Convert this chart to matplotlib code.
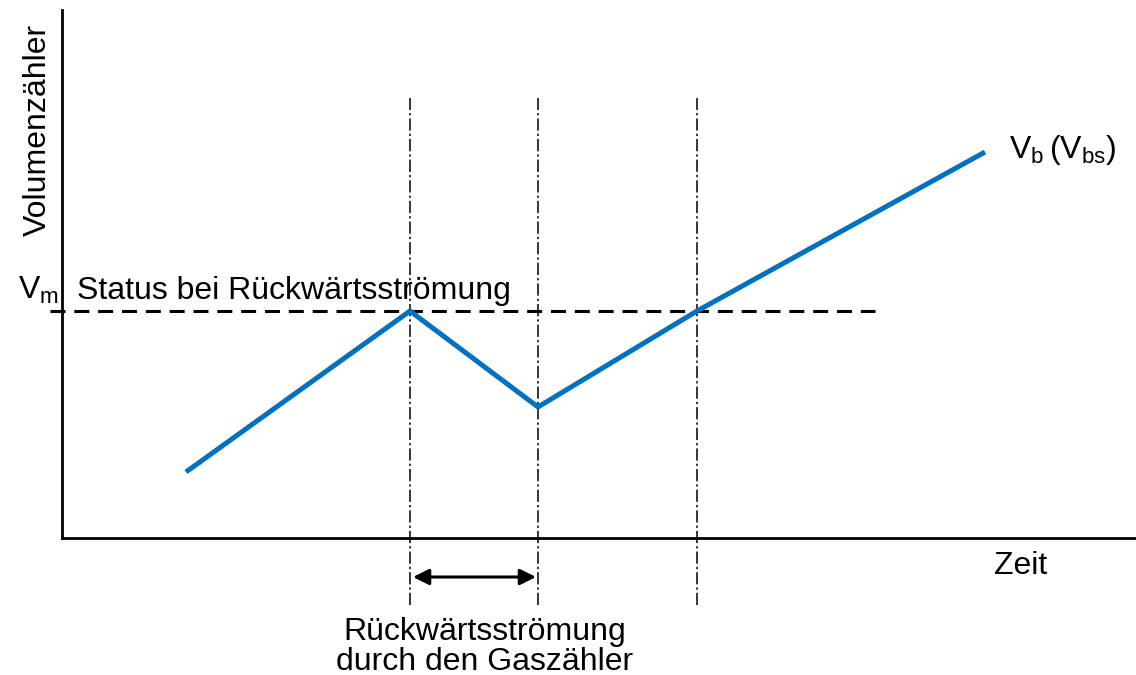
import matplotlib
matplotlib.use("Agg")
import matplotlib.pyplot as plt

plt.rcParams['font.family'] = ['Liberation Sans', 'DejaVu Sans']

# Data (arbitrary units)
time = [1.24, 3.48, 4.76, 6.35, 9.23]
volume = [0.66, 2.27, 1.31, 2.27, 3.86]
v_m = 2.27
event_times = [3.48, 4.76, 6.35]
x_label = "Zeit"
y_label = "Volumenzähler"
status_label = "Status bei Rückwärtsströmung"
backflow_label = "Rückwärtsströmung\ndurch den Gaszähler"

fig = plt.figure(figsize=(11.36, 6.75), dpi=100)
W, H = 1136, 675
ax = fig.add_axes([62 / W, (H - 538) / H, (1135 - 62) / W, (538 - 10) / H])
ax.set_xlim(0, 10.73)
ax.set_ylim(0, 5.28)
for s in ['top', 'right']:
    ax.spines[s].set_visible(False)
for s in ['left', 'bottom']:
    ax.spines[s].set_linewidth(2.0)
    ax.spines[s].set_color('black')
ax.set_xticks([])
ax.set_yticks([])

blue = '#0070C0'
ax.plot(time, volume, color=blue, lw=3.6, solid_capstyle='butt', zorder=3)

# Dashed reference line at V_m
ax.plot([-0.12, 8.13], [v_m, v_m], color='black', lw=2.2, linestyle=(0, (4.9, 2.9)),
        clip_on=False, zorder=2)

# Dash-dot vertical lines
for t in event_times:
    ax.plot([t, t], [-0.67, 4.40], color='black', lw=1.1,
            linestyle=(0, (8, 2, 1.5, 2)), clip_on=False, zorder=2)

# Double arrow
ax.annotate('', xy=(event_times[0] + 0.03, -0.39), xytext=(event_times[1] - 0.02, -0.39),
            arrowprops=dict(arrowstyle='<|-|>', color='black', lw=2.2,
                            mutation_scale=24, shrinkA=0, shrinkB=0),
            annotation_clip=False)

fs = 23
ax.text(4.23, -1.09, backflow_label,
        ha='center', va='center', fontsize=fs, linespacing=1.02)
ax.text(9.59, -0.28, x_label, ha='center', va='center', fontsize=fs)
ax.text(-0.24, 4.08, y_label, rotation=90, ha='center', va='center', fontsize=fs)
ax.text(0.15, v_m + 0.05, status_label, ha='left', va='bottom', fontsize=fs)
ax.text(-0.03, v_m + 0.05, r'$\mathregular{V_m}$', ha='right', va='bottom', fontsize=fs)
ax.text(9.47, 3.88, r'$\mathregular{V_b\,(V_{bs})}$', ha='left', va='center', fontsize=fs)

fig.savefig('out.png', dpi=100)
